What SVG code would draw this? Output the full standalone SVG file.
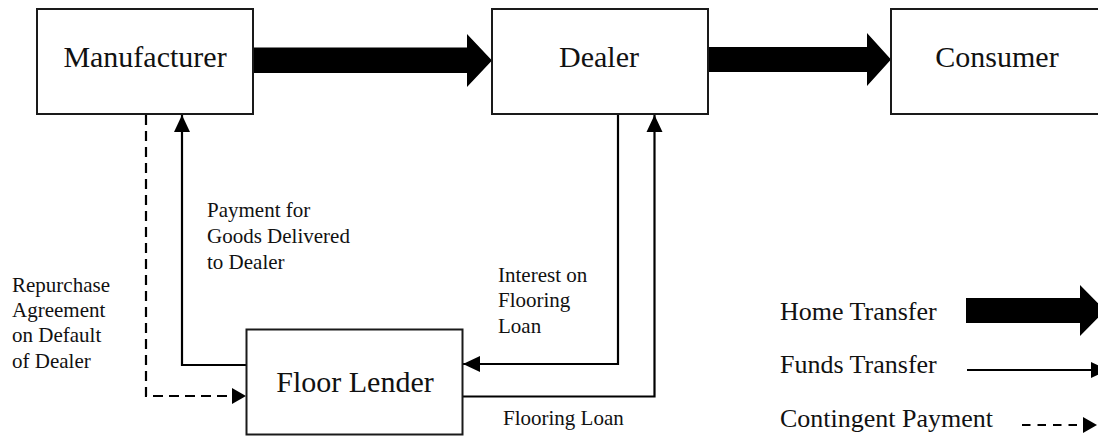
<svg xmlns="http://www.w3.org/2000/svg" width="1098" height="436" viewBox="0 0 1098 436">
  <style>
    .box { fill: #ffffff; stroke: #1a1a1a; stroke-width: 2; }
    .lbl { font-family: "Liberation Serif", "Times New Roman", serif; font-size: 30px; fill: #111; text-anchor: middle; }
    .note { font-family: "Liberation Serif", "Times New Roman", serif; font-size: 21px; fill: #111; }
    .leg { font-family: "Liberation Serif", "Times New Roman", serif; font-size: 26px; fill: #111; }
    .fund { fill: none; stroke: #000; stroke-width: 2.2; }
    .cont { fill: none; stroke: #000; stroke-width: 2.2; stroke-dasharray: 10 6; }
    .home { fill: #000; stroke: none; }
  </style>
  <defs>
    <marker id="head" markerUnits="userSpaceOnUse" markerWidth="18" markerHeight="17" refX="17" refY="8" orient="auto" overflow="visible">
      <path d="M0,0 L17,8 L0,16 Z" fill="#000"/>
    </marker>
    <marker id="headc" markerUnits="userSpaceOnUse" markerWidth="15" markerHeight="17" refX="14" refY="8" orient="auto" overflow="visible">
      <path d="M0,0 L14,8 L0,16 Z" fill="#000"/>
    </marker>
  </defs>

  <g id="connectors">
    <!-- Home transfer arrows -->
    <polygon class="home" points="253,47.5 467,47.5 467,34 492,60.5 467,87 467,73 253,73"/>
    <polygon class="home" points="708,47 867,47 867,33 891,59.5 867,86 867,72 708,72"/>
    <!-- Payment for goods delivered to dealer -->
    <path class="fund" d="M246.5,365 H182 V115" marker-end="url(#head)"/>
    <!-- Repurchase agreement (contingent) -->
    <path class="cont" d="M146,115 V396 H246" marker-end="url(#headc)"/>
    <!-- Interest on flooring loan -->
    <path class="fund" d="M618,114 V364 H463" marker-end="url(#head)"/>
    <!-- Flooring loan -->
    <path class="fund" d="M463,396.5 H654.5 V115" marker-end="url(#head)"/>
  </g>

  <g id="manufacturer">
    <rect class="box" x="37" y="9" width="216" height="105"/>
    <text class="lbl" x="145" y="67">Manufacturer</text>
  </g>
  <g id="dealer">
    <rect class="box" x="492" y="9" width="216" height="105"/>
    <text class="lbl" x="599" y="67">Dealer</text>
  </g>
  <g id="consumer">
    <rect class="box" x="891" y="9" width="216" height="105"/>
    <text class="lbl" x="997" y="67">Consumer</text>
  </g>
  <g id="floor-lender">
    <rect class="box" x="246.5" y="329.5" width="216" height="105"/>
    <text class="lbl" x="355" y="392">Floor Lender</text>
  </g>

  <g id="labels">
    <text class="note" x="207" y="217">Payment for</text>
    <text class="note" x="207" y="243">Goods Delivered</text>
    <text class="note" x="207" y="269">to Dealer</text>

    <text class="note" x="12" y="292">Repurchase</text>
    <text class="note" x="12" y="317">Agreement</text>
    <text class="note" x="12" y="342">on Default</text>
    <text class="note" x="12" y="368">of Dealer</text>

    <text class="note" x="498" y="282">Interest on</text>
    <text class="note" x="498" y="307">Flooring</text>
    <text class="note" x="498" y="333">Loan</text>

    <text class="note" x="503" y="425">Flooring Loan</text>
  </g>

  <g id="legend">
    <text class="leg" x="780" y="320">Home Transfer</text>
    <polygon class="home" points="966,298 1080,298 1080,285 1105,310.5 1080,336 1080,323 966,323"/>
    <text class="leg" x="780" y="373">Funds Transfer</text>
    <path class="fund" d="M967,370 H1108" marker-end="url(#head)"/>
    <text class="leg" x="780" y="427">Contingent Payment</text>
    <path class="cont" style="stroke-dasharray: 8.5 7" d="M1022,425 H1097" marker-end="url(#headc)"/>
  </g>
</svg>
